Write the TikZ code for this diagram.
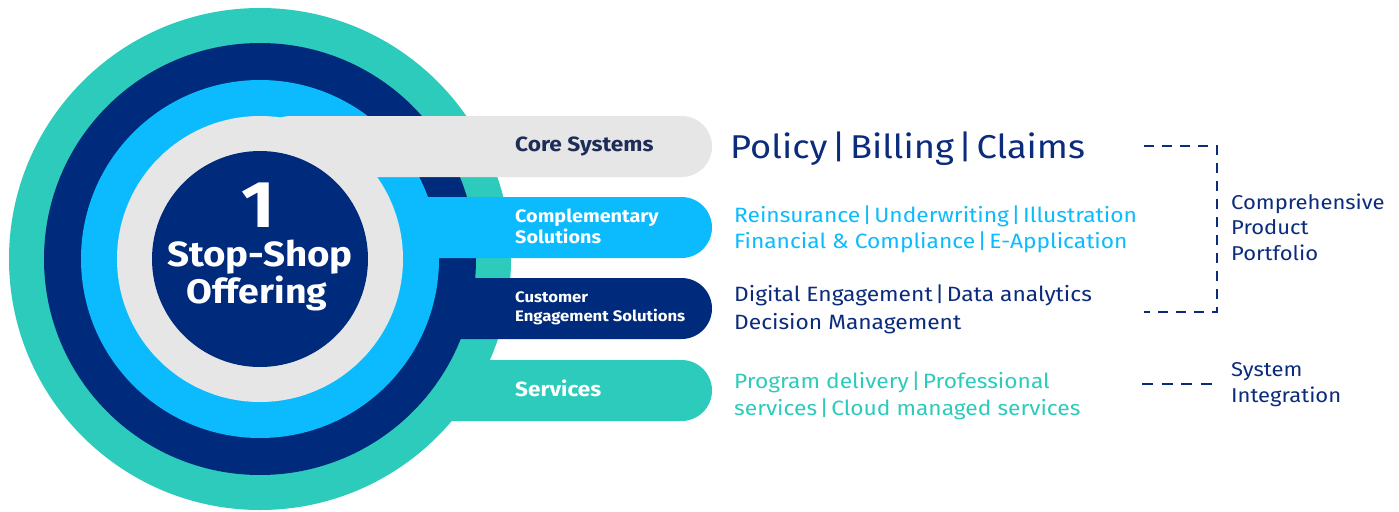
\documentclass[tikz,border=0pt]{standalone}
\usepackage{fontspec}
\setmainfont{Fira Sans}[FakeStretch=1.1]
\definecolor{cteal}{HTML}{2CCBBB}
\definecolor{cnavy}{HTML}{002A7B}
\definecolor{cblue}{HTML}{0BBBFE}
\definecolor{cgray}{HTML}{E6E6E6}
\definecolor{cdark}{HTML}{1E2D58}
\definecolor{ctext}{HTML}{0B2B7C}
\newcommand{\sepbar}{\hspace{0.12em}|\hspace{0.12em}}
\begin{document}
\begin{tikzpicture}[x=1pt,y=-1pt,
  bar/.style={rounded corners=30.5pt},
  barlabel/.style={anchor=base west,inner sep=0pt,font=\bfseries},
  rtext/.style={anchor=base west,inner sep=0pt},
  dashline/.style={draw=ctext,line width=2pt,dash pattern=on 10pt off 8pt}
]
\useasboundingbox (0,0) rectangle (1399,511);
\fill[white] (0,0) rectangle (1399,511);
% layers
\fill[cteal] (260,259) circle[radius=251pt];
\fill[cteal,bar] (260,360) rectangle (712,421);
\fill[cnavy] (260,259) circle[radius=216pt];
\fill[cnavy,bar] (260,278) rectangle (712,339);
\fill[cblue] (260,259) circle[radius=179pt];
\fill[cblue,bar] (260,197) rectangle (712,258);
\fill[cgray] (260,259) circle[radius=143pt];
\fill[cgray,bar] (260,116) rectangle (712,177);
\fill[cnavy] (260,259) circle[radius=108pt];
% center text
\node[anchor=base,inner sep=0pt,text=white,font=\bfseries\fontsize{66}{66}\selectfont] (one) at (258,227) {1};
\node[anchor=base,inner sep=0pt,text=white,font=\bfseries\fontsize{35}{35}\selectfont] (stop) at (260,266) {Stop-Shop};
\node[anchor=base,inner sep=0pt,text=white,font=\bfseries\fontsize{34}{34}\selectfont] (offer) at (257,303) {Offering};
% bar labels
\node[barlabel,text=cdark,font=\bfseries\fontsize{20.6}{20.6}\selectfont] (core) at (515,151) {Core Systems};
\node[barlabel,text=white,font=\bfseries\fontsize{18}{18}\selectfont] (comp1) at (515,222.5) {Complementary};
\node[barlabel,text=white,font=\bfseries\fontsize{18}{18}\selectfont] (comp2) at (515,243.5) {Solutions};
\node[barlabel,text=white,font=\bfseries\fontsize{15.2}{15.2}\selectfont] (cust1) at (515,302) {Customer};
\node[barlabel,text=white,font=\bfseries\fontsize{15.2}{15.2}\selectfont] (cust2) at (515,321) {Engagement Solutions};
\node[barlabel,text=white,font=\bfseries\fontsize{20.5}{20.5}\selectfont] (serv) at (515,396.5) {Services};
% right texts
\node[rtext,text=ctext,font=\fontsize{33}{33}\selectfont] (pbc) at (730,158.3) {Policy\sepbar Billing\sepbar Claims};
\node[rtext,text=cblue,font=\fontsize{20.7}{20.7}\selectfont] (re1) at (734,222.3) {Reinsurance\sepbar Underwriting\sepbar Illustration};
\node[rtext,text=cblue,font=\fontsize{20.7}{20.7}\selectfont] (re2) at (734,248.3) {Financial \& Compliance\sepbar E-Application};
\node[rtext,text=ctext,font=\fontsize{20.7}{20.7}\selectfont] (de1) at (734,301.7) {Digital Engagement\sepbar Data analytics};
\node[rtext,text=ctext,font=\fontsize{20.7}{20.7}\selectfont] (de2) at (734,329) {Decision Management};
\node[rtext,text=cteal,font=\fontsize{20.7}{20.7}\selectfont] (pd1) at (734,388.3) {Program delivery\sepbar Professional};
\node[rtext,text=cteal,font=\fontsize{20.7}{20.7}\selectfont] (pd2) at (734,415) {services\sepbar Cloud managed services};
\node[rtext,text=ctext,font=\fontsize{20}{20}\selectfont] (cpp1) at (1231,209) {Comprehensive};
\node[rtext,text=ctext,font=\fontsize{20}{20}\selectfont] (cpp2) at (1231,234.3) {Product};
\node[rtext,text=ctext,font=\fontsize{20}{20}\selectfont] (cpp3) at (1231,260) {Portfolio};
\node[rtext,text=ctext,font=\fontsize{20}{20}\selectfont] (si1) at (1231,376.7) {System};
\node[rtext,text=ctext,font=\fontsize{20}{20}\selectfont] (si2) at (1231,402.7) {Integration};
% dashed brackets
\coordinate (b1) at (1144,146);
\coordinate (b2) at (1217,146);
\coordinate (b3) at (1217,311.5);
\coordinate (b4) at (1144,311.5);
\draw[dashline] (b1) -- (b2) -- (b3) -- (b4);
\coordinate (s1) at (1142,384);
\coordinate (s2) at (1212,384);
\draw[dashline,dash pattern=on 11pt off 8.5pt] (s1) -- (s2);
\end{tikzpicture}
\end{document}
